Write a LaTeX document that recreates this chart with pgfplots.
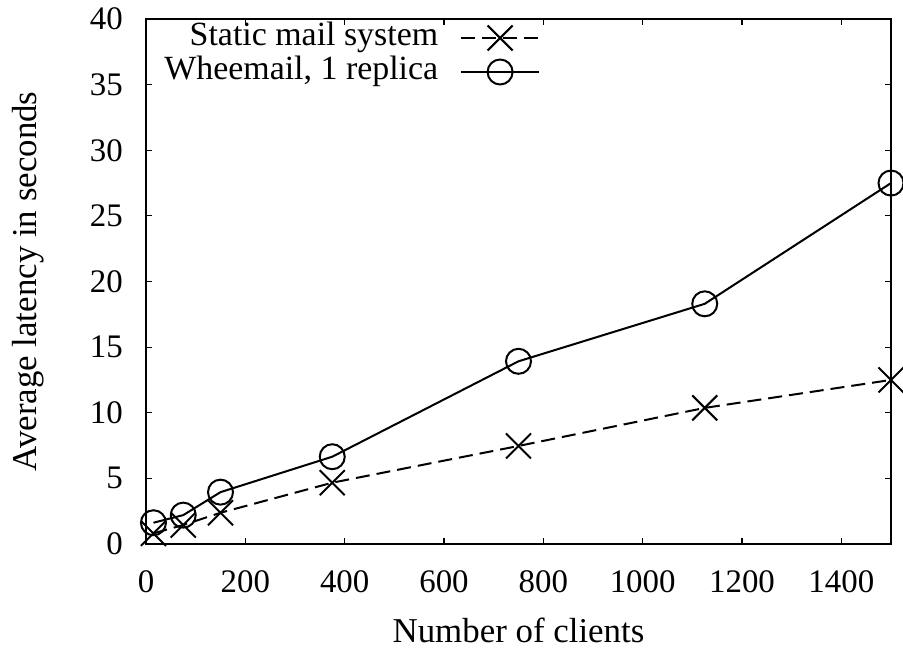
\documentclass[border=0pt]{standalone}
\usepackage{fontspec}
\setmainfont{Liberation Serif}
\usepackage{pgfplots}
\pgfplotsset{compat=1.18}
\begin{document}
\begin{tikzpicture}
\useasboundingbox (-146bp,-104bp) rectangle (757bp,544bp);
\begin{axis}[
  scale only axis, width=745bp, height=525bp,
  xmin=0, xmax=1500, ymin=0, ymax=40,
  xtick={0,200,...,1400}, ytick={0,5,...,40},
  tick align=inside, major tick length=6bp,
  axis line style={line width=1.8bp},
  every tick/.style={line width=1.2bp, black},
  /pgf/number format/assume math mode=true,
  /pgf/number format/1000 sep={},
  scaled ticks=false,
  tick label style={font=\fontsize{33}{37}\selectfont},
  xticklabel style={anchor=base, yshift=-48bp},
  yticklabel style={anchor=east, inner sep=0pt, xshift=-23bp},
  label style={font=\fontsize{35}{40}\selectfont},
  xlabel={Number of clients},
  ylabel={Average latency in seconds},
  xlabel style={at={(axis description cs:0.5,-0.1867)}, anchor=base},
  ylabel style={at={(axis description cs:-0.147,0.5)}, anchor=base},
  legend style={draw=none, fill=none, at={(0.529,1)}, anchor=north east,
    yshift=-4bp, inner sep=0pt, outer sep=0pt,
    nodes={inner sep=0pt, text height=23bp, text depth=7bp},
    font=\fontsize{34}{38}\selectfont, row sep=4bp, column sep=22bp},
  legend cell align=right,
  legend plot pos=right,
  legend image code/.code={\draw[mark repeat=2,mark phase=2,#1] plot coordinates {(0bp,0bp) (39bp,0bp) (78bp,0bp)};},
]
\addplot[black, line width=2bp, dash pattern=on 14bp off 7bp, mark=x, mark size=17.7bp, mark options={solid}]
  coordinates {(15,0.81) (75,1.45) (150,2.38) (375,4.67) (750,7.47) (1125,10.37) (1500,12.5)};
\addlegendentry{Static mail system}
\addplot[black, line width=2bp, mark=o, mark size=12.5bp]
  coordinates {(15,1.62) (75,2.2) (150,3.95) (375,6.65) (750,13.92) (1125,18.3) (1500,27.5)};
\addlegendentry{Wheemail, 1 replica}
\end{axis}
\end{tikzpicture}
\end{document}
